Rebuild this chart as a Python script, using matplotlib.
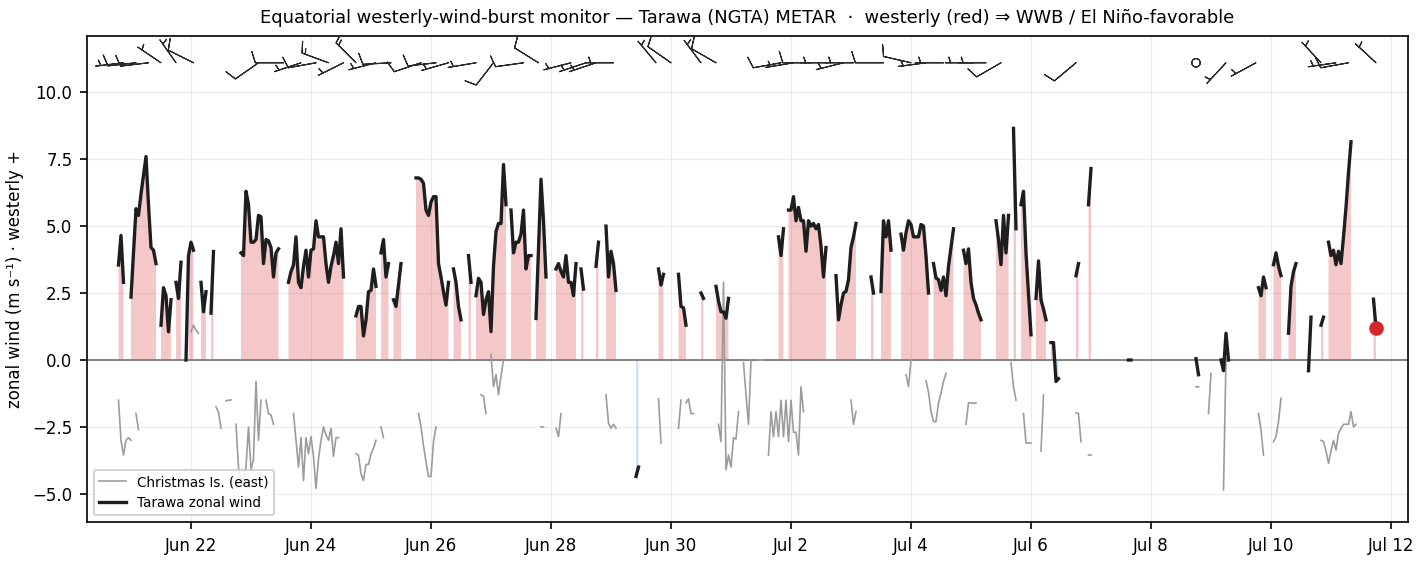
import numpy as np
import matplotlib
matplotlib.use("Agg")
import matplotlib.pyplot as plt
import matplotlib.dates as mdates
from datetime import datetime, timedelta

# ---------------- data (hours since 2025-06-20 00:00 UTC) ----------------
BASE = datetime(2025, 6, 20)

# Tarawa zonal wind (m/s), hourly segments: (start hour, values)
TARAWA_SEGMENTS = [
    (19, [3.55, 4.65, 2.9]),
    (24, [2.35, 4.0, 5.65, 5.4, 6.2, 6.9, 7.6, 5.8, 4.2, 4.1, 3.6]),
    (36, [1.3, 2.7, 2.4, 1.05, 2.25]),
    (42, [2.9, 2.3, 3.65]),
    (46, [0.0, 3.9, 4.4, 4.1]),
    (52, [2.9, 1.8, 2.55]),
    (56, [1.75, 4.05]),
    (68, [4.0, 3.9, 6.3, 5.8, 4.4, 4.4, 4.5, 5.4, 5.35, 3.6, 4.5, 4.45, 4.2, 3.1, 4.0, 4.15]),
    (87, [2.9, 3.3, 3.55, 4.6, 2.9, 2.7, 3.5, 4.1, 3.1, 4.1, 4.15, 5.2, 4.6, 4.6, 4.6,
          3.6, 2.9, 3.5, 3.9, 4.4, 3.6, 4.9, 3.1]),
    (114, [1.65, 2.0, 2.0, 0.9, 1.5, 2.55, 2.6, 3.4, 2.75]),
    (124, [4.0, 4.5, 3.1, 3.6]),
    (129, [2.25, 2.0, 2.8, 3.6]),
    (138, [6.8, 6.8, 6.75, 6.6, 5.6, 5.4, 5.9, 6.1, 6.1, 3.6, 3.1, 2.55, 2.05, 2.9]),
    (153, [3.4, 2.9, 2.0, 1.5]),
    (159, [3.9, 2.9]),
    (162, [2.4, 3.05, 2.9, 1.7, 2.25, 2.55, 1.06, 3.5, 4.8, 5.1, 5.1, 7.3, 5.8]),
    (176, [5.6, 4.0, 4.4, 4.4, 4.7, 5.6, 3.4, 3.9, 3.9]),
    (186, [1.55, 4.2, 6.75, 5.2, 3.1]),
    (194, [3.4, 3.6, 3.3, 3.1, 3.9, 2.9, 2.9, 2.4, 3.6]),
    (204, [3.4, 2.65]),
    (210, [3.5, 4.4]),
    (214, [5.0, 3.1, 4.06, 3.6, 2.6]),
    (226, [-4.35, -4.0]),
    (235, [3.4, 2.8, 3.2]),
    (243, [3.2, 2.0, 1.95, 1.3]),
    (252, [2.5, 2.3]),
    (258, [2.75, 2.2, 1.8, 1.8, 1.56, 2.3]),
    (283, [4.6, 3.9, 4.9]),
    (287, [5.6, 5.6, 6.1, 5.2, 5.7, 5.2, 5.2, 4.06, 5.2, 5.0, 5.1, 4.9, 5.06, 4.25, 3.1, 4.2]),
    (306, [3.15, 1.5, 2.06, 2.5, 2.56, 3.0, 4.2, 4.6, 5.1]),
    (320, [3.1, 2.5]),
    (324, [2.56, 5.2, 4.6, 5.2, 4.1]),
    (332, [4.7, 4.1, 4.75, 5.2, 5.06, 4.6, 4.6, 4.6, 5.06, 5.0, 3.9, 2.5]),
    (345, [3.6, 3.06, 3.0, 2.6, 3.1, 2.4, 3.5, 4.2, 4.9]),
    (357, [4.1, 3.6, 4.15, 2.9, 2.3, 2.06, 1.75, 1.5]),
    (370, [5.2, 4.5, 3.56, 5.4, 4.0, 5.4]),
    (377, [8.65, 4.9]),
    (380, [5.8, 6.3, 4.0, 2.5, 0.94]),
    (386, [2.3, 3.7, 2.25, 1.9, 1.5]),
    (392, [0.65, 0.65, -0.8, -0.7]),
    (402, [3.15, 3.6]),
    (407, [5.8, 7.15]),
    (423, [0.0, 0.0]),
    (450, [0.05, -0.55]),
    (460, [0.0, -0.4, 1.0, 0.0]),
    (475, [2.7, 2.4, 3.1, 2.7]),
    (481, [3.56, 4.0, 3.5, 3.15]),
    (487, [1.0, 2.75, 3.3, 3.6]),
    (495, [-0.4, 1.6]),
    (500, [1.3, 1.6]),
    (503, [4.4, 3.9, 4.1, 3.56, 4.06, 3.6, 4.6, 5.7, 7.0, 8.15]),
    (521, [2.27, 1.2]),
]

# Christmas Island zonal wind (m/s), hourly segments
CHRISTMAS_SEGMENTS = [
    (19, [-1.5, -3.0, -3.55, -3.0, -2.9, -3.0]),
    (26, [-2.0, -2.6]),
    (48, [1.05, 1.3, 1.1, 1.0]),
    (58, [-1.75, -1.95, -2.55]),
    (62, [-1.52, -1.5, -1.49]),
    (66, [-2.4, -4.0, -4.6, -4.4, -4.0, -2.5, -4.1, -3.7, -0.8, -3.0, -1.5]),
    (78, [-1.5, -2.0, -2.05, -2.4]),
    (89, [-2.0, -3.0, -4.0, -2.9, -4.5, -2.9, -3.5, -2.86, -3.6, -4.8, -3.7, -3.0, -2.5,
          -2.8, -3.0, -2.55, -3.6, -2.9, -2.9]),
    (114, [-3.5, -3.55, -4.25, -4.5, -3.9, -3.9, -3.5, -3.3, -3.0]),
    (124, [-2.5, -2.9]),
    (139, [-2.0, -2.5, -3.2, -3.8, -4.35, -4.35, -3.05, -2.5]),
    (164, [-1.3, -1.35, -2.0]),
    (168, [0.2, -1.0, -0.55, -1.3, -0.6, 0.0]),
    (188, [-2.5, -2.5]),
    (194, [-2.55, -2.86, -2.0]),
    (214, [-1.3, -2.36, -2.55, -2.4, -2.55]),
    (235, [-1.45, -3.1]),
    (243, [-2.55, -1.5]),
    (246, [-1.6, -1.45, -2.0, -2.0]),
    (259, [-2.4, -3.05, 2.9, -4.1, -3.55, -4.0, -2.9, -2.95, -1.93]),
    (269, [-0.1, -1.3, -2.4, 0.0]),
    (275, [0.0, 0.0, 0.0]),
    (279, [-3.55, -1.93, -2.86, -1.93, -2.86, -1.5, -2.86, -1.5, -3.05, -1.5, -2.7, -2.7,
           -3.55, -1.0, -1.93]),
    (312, [-1.5, -2.4, -1.93]),
    (334, [-0.55, -1.0, 0.0]),
    (342, [-0.77, -1.2, -1.93, -2.3, -2.3, -1.6, -1.24, -0.8, -0.5]),
    (358, [-2.4, -1.6, -1.6, -1.62, -1.6]),
    (376, [-0.1, -1.0, -1.5]),
    (381, [-2.0, -3.1, -3.1, -3.1]),
    (388, [-3.4, -1.3]),
    (402, [-1.97, -2.0, -3.05]),
    (407, [-3.55, -3.55]),
    (450, [-1.0, -1.0]),
    (455, [-2.0, -0.5]),
    (461, [-4.85, 0.05]),
    (475, [-2.0, -2.6, -3.55]),
    (481, [-3.05, -2.86, -2.3, -1.43]),
    (500, [-3.0, -3.05, -3.4, -3.86, -3.4, -3.0, -3.36, -2.74, -2.55, -2.4, -2.4, -2.4,
           -1.93, -2.5, -2.4]),
]

# Wind barbs (knots) drawn along the top of the panel
BARB_HOURS = [21, 26, 31, 36, 42, 49, 75, 85, 92, 98, 103, 109, 114, 122, 128, 140, 146,
              151, 162, 169, 181, 187, 200, 206, 210, 217, 234, 240, 252, 258, 284, 289,
              296, 303, 309, 313, 325, 336, 342, 349, 361, 366, 372, 402, 450, 462, 474,
              500, 506, 511, 522]
BARB_U_KT = [5, 9, 10, 4, 4, 8, 8, 10, 6, 10, 12, 5, 10, 7, 9, 9, 9,
             7, 6, 6, 10, 9, 5, 6, 6, 6, 4, 8, 4, 8, 10, 6,
             10, 6, 6, 6, 10, 10, 6, 6, 6, 6, 9, 8, 0, 4, 5,
             4, 7, 10, 4]
BARB_V_KT = [0.6, 1.0, 1.2, -2.7, -5.7, -4.0, 5.6, 0.0, 2.0, 1.8, -4.4, 2.5, -10.0, 1.8,
             0.5, 3.0, 1.0, 2.0, 1.0, 7.7, 1.4, -5.6, 1.3, 2.0, 2.0, 0.0, -4.8, -5.6,
             -5.3, -4.6, 1.8, 1.0, 0.0, 0.0, 1.5, 0.0, 0.0, -2.3, 0.8, 0.0, 0.0, 0.0,
             5.2, 6.7, 0.0, 4.3, 2.7, -4.3, 1.0, 1.8, -3.7]
BARB_LEVEL = 11.1

TITLE = ("Equatorial westerly-wind-burst monitor \u2014 Tarawa (NGTA) METAR  \u00b7  "
         "westerly (red) \u21d2 WWB / El Ni\u00f1o-favorable")
YLABEL = "zonal wind (m s\u207b\u00b9) \u00b7 westerly +"


def build(segments, n=531):
    vals = np.full(n, np.nan)
    for start, seq in segments:
        vals[start:start + len(seq)] = seq
    return vals


def to_num(hours):
    return mdates.date2num([BASE + timedelta(hours=float(h)) for h in hours])


hours = np.arange(531)
t = to_num(hours)
u_tar = build(TARAWA_SEGMENTS)
u_xmas = build(CHRISTMAS_SEGMENTS)

fig = plt.figure(figsize=(9.5, 563 / 150), dpi=150)
ax = fig.add_axes([0.06105, 0.07282, 0.92702, 0.86324])

ax.fill_between(t, 0, u_tar, where=(u_tar > 0), color="#d62728", alpha=0.25,
                linewidth=0, zorder=1)
ax.fill_between(t, 0, u_tar, where=(u_tar < 0), color="#1f77b4", alpha=0.2,
                linewidth=0, zorder=1)
ax.axhline(0, color="#808080", lw=0.9, zorder=1.5)
ax.plot(t, u_xmas, color="#9c9c9c", lw=0.8, label="Christmas Is. (east)", zorder=2)
ax.plot(t, u_tar, color="#1e1e1e", lw=1.6, label="Tarawa zonal wind", zorder=3)

last = np.where(~np.isnan(u_tar))[0][-1]
ax.plot([t[last]], [u_tar[last]], "o", color="#d62728", ms=6, zorder=5)

tb = to_num(BARB_HOURS)
ax.barbs(tb, np.full(len(tb), BARB_LEVEL), BARB_U_KT, BARB_V_KT, length=5.2,
         linewidth=0.55, color="#2a2a2a", zorder=4)

ax.set_xlim(to_num([6.4])[0], to_num([534.8])[0])
ax.set_ylim(-6.05, 12.1)
ax.set_yticks([-5, -2.5, 0, 2.5, 5, 7.5, 10])
ax.yaxis.set_major_formatter(matplotlib.ticker.FuncFormatter(
    lambda v, p: f"{v:.1f}".replace("-", "\u2212")))
ticks = to_num([48 + 48 * k for k in range(11)])
ax.set_xticks(ticks)
ax.xaxis.set_major_formatter(mdates.DateFormatter("%b %-d"))
ax.tick_params(labelsize=8)
ax.grid(True, color="#ececec", lw=0.6)
ax.set_axisbelow(True)
ax.set_ylabel(YLABEL, fontsize=8)
ax.set_title(TITLE, fontsize=8.6)
ax.legend(loc="lower left", fontsize=6.5, framealpha=0.85)

fig.savefig("out.png", dpi=150)
